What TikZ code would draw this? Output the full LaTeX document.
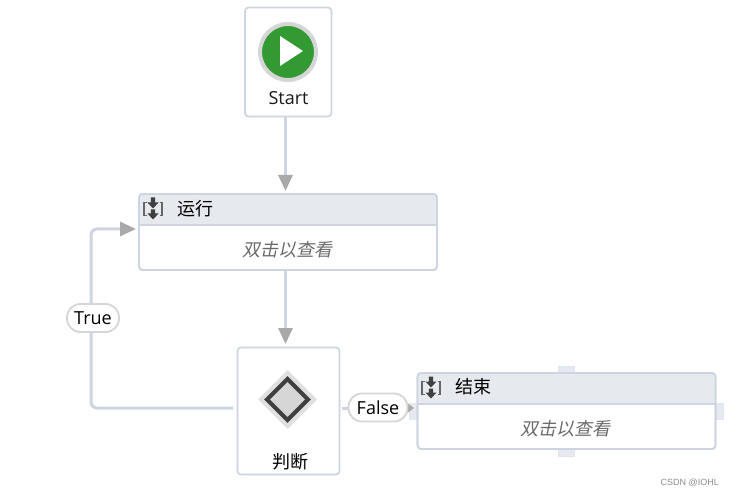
\documentclass[tikz,border=0pt]{standalone}
\usepackage{fontspec}
\setmainfont{Open Sans}
\newfontfamily\cjk{Noto Sans CJK SC}
\newfontfamily\cjkit[FakeSlant=0.2]{Noto Sans CJK SC}
\newfontfamily\wm{Liberation Sans}
\usetikzlibrary{arrows.meta,calc}
\definecolor{edgec}{HTML}{CDD4E2}
\definecolor{headc}{HTML}{E6E9ED}
\definecolor{tipc}{HTML}{A9A9A9}
\definecolor{ringc}{HTML}{D6D6D6}
\definecolor{greenc}{HTML}{339933}
\definecolor{darkc}{HTML}{404040}
\definecolor{handlec}{HTML}{E6E9EF}
\tikzset{
  x=1pt,y=-1pt,
  box/.style={draw=edgec,line width=1.7pt,rounded corners=3.5pt,fill=white,inner sep=0pt,outer sep=0pt,minimum width=#1},
  hbar/.style={fill=headc},
  conn/.style={draw=edgec,line width=3pt},
  arr/.style={-{Triangle[length=16pt,width=14pt,color=tipc]},draw=edgec,line width=3pt,shorten >=0pt},
  cond/.style={draw=ringc,line width=1.8pt,fill=white,rounded corners=13.5pt,inner sep=0pt,minimum height=28pt,font=\fontsize{18}{20}\selectfont},
  title/.style={font=\cjk\fontsize{18}{20}\selectfont,inner sep=0pt,anchor=west,text=black},
  hint/.style={font=\cjkit\fontsize{18}{20}\selectfont,inner sep=0pt,text=black!58},
  lab/.style={font=\fontsize{18}{20}\selectfont,inner sep=0pt,text=black!90},
  handle/.style={fill=handlec,draw=edgec!60,line width=.5pt},
}
\newcommand{\seqicon}[1]{%
  \begin{scope}[shift={(#1)}]
    \draw[black!60,line width=1.4pt] (-6.5,-6)--(-9,-6)--(-9,7)--(-6.5,7);
    \draw[black!60,line width=1.4pt] (6.5,-6)--(9,-6)--(9,7)--(6.5,7);
    \fill[darkc] (-2.2,-11)--(2.2,-11)--(2.2,-6)--(5.5,-6)--(0,0)--(-5.5,-6)--(-2.2,-6)--cycle;
    \fill[darkc] (-2.2,1)--(2.2,1)--(2.2,5)--(5.5,5)--(0,11)--(-5.5,5)--(-2.2,5)--cycle;
  \end{scope}}
\begin{document}
\begin{tikzpicture}
\useasboundingbox[fill=white] (0,0) rectangle (734,497);
% handles of the last box
\path[handle] (558,366) rectangle (574,373);
\path[handle] (558,449) rectangle (574,456);
\path[handle] (409,403) rectangle (417,419);
\path[handle] (716,403) rectangle (723.5,419);
% boxes
\node[box=86.5pt,minimum height=109pt] (start) at (288.2,62) {};
\node[box=298pt,minimum height=76pt] (run) at (288,232) {};
\node[box=102pt,minimum height=127pt] (dec) at (288.5,411) {};
\node[box=298pt,minimum height=76pt] (end) at (566.5,411) {};
% headers
\path[hbar,rounded corners=3pt] (run.north west) -- (run.north east) [sharp corners] -- ($(run.north east)+(0,31)$) -- ($(run.north west)+(0,31)$) -- cycle;
\path[hbar,rounded corners=3pt] (end.north west) -- (end.north east) [sharp corners] -- ($(end.north east)+(0,31)$) -- ($(end.north west)+(0,31)$) -- cycle;
\draw[edgec,line width=1.7pt,rounded corners=3.5pt] (run.north west) rectangle (run.south east);
\draw[edgec,line width=1.7pt,rounded corners=3.5pt] (end.north west) rectangle (end.south east);
\draw[edgec,line width=1.5pt] ($(run.north west)+(0,31)$) -- ($(run.north east)+(0,31)$);
\draw[edgec,line width=1.5pt] ($(end.north west)+(0,31)$) -- ($(end.north east)+(0,31)$);
% start icon
\fill[greenc,draw=ringc,line width=4pt] (288,52) circle (28);
\fill[white] (280,36) -- (303,51) -- (280,66) -- cycle;
\node[lab] (startl) at (288.5,98.5) {Start};
% run
\seqicon{153,208.5}
\node[title] (runl) at (177,208.5) {运行};
\node[hint] (runh) at (287,250) {双击以查看};
% decision icon
\fill[ringc!75] (287.5,370) -- (317,399.5) -- (287.5,429) -- (258,399.5) -- cycle;
\fill[ringc,draw=darkc,line width=4pt,line join=miter] (287.5,379) -- (308,399.5) -- (287.5,420) -- (267,399.5) -- cycle;
\node[font=\cjk\fontsize{18}{20}\selectfont,inner sep=0pt] (decl) at (290,462) {判断};
% end
\seqicon{431,387.5}
\node[title] (endl) at (455,386.5) {结束};
\node[hint] (endh) at (565,429) {双击以查看};
% connectors
\coordinate (runin) at (285.5,191);
\coordinate (decin) at (285.5,344);
\coordinate (loopa) at (233,408);
\coordinate (loopb) at (136,229);
\coordinate (falsea) at (342,408);
\coordinate (falseb) at (414,408);
\draw[arr] (start.south -| runin) -- (runin);
\draw[arr] (run.south -| decin) -- (decin);
\draw[arr,rounded corners=6pt] (loopa) -- (91,408) -- (91,229) -- (loopb);
\draw[-{Triangle[length=7pt,width=10pt,color=tipc]},draw=edgec,line width=3pt] (falsea) -- (falseb);
% condition labels
\node[cond,minimum width=52pt] (truel) at (93,318) {True};
\node[cond,minimum width=59pt] (falsel) at (378,407.5) {False};
\node[font=\wm\fontsize{9}{10}\selectfont,text=black!45,inner sep=0pt,anchor=east] (wmark) at (719,483) {CSDN @IOHL};
\end{tikzpicture}
\end{document}
